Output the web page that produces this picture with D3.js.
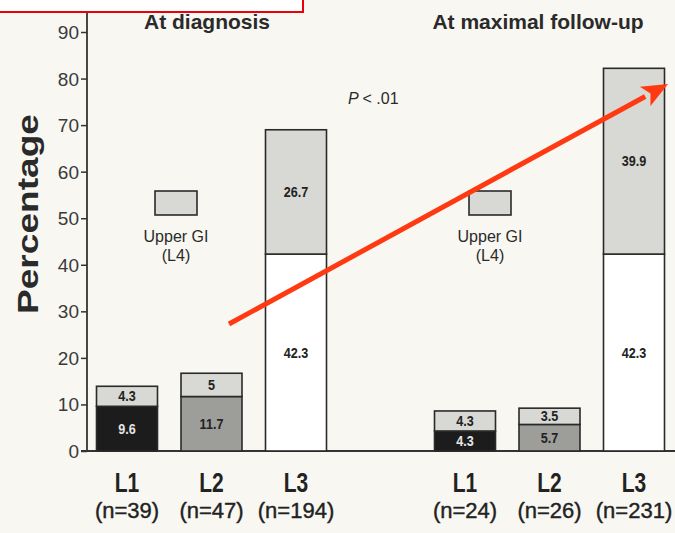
<!DOCTYPE html>
<html>
<head>
<meta charset="utf-8">
<script src="https://cdn.jsdelivr.net/npm/d3@7"></script>
<style>
body { margin: 0; background: #f8f7f2; }
text { font-family: "Liberation Sans", Arial, Helvetica, sans-serif; }
</style>
</head>
<body>
<div class="chart"></div>
<script>
// values
const panels = ['At diagnosis', 'At maximal follow-up'];
const levels = ['L1', 'L2', 'L3'];
const nDiagnosis = [39, 47, 194];
const nFollowUp = [24, 26, 231];
const lowerDiagnosis = [9.6, 11.7, 42.3];
const upperDiagnosis = [4.3, 5, 26.7];
const lowerFollowUp = [4.3, 5.7, 42.3];
const upperFollowUp = [4.3, 3.5, 39.9];
const yTicks = [0, 10, 20, 30, 40, 50, 60, 70, 80, 90];
const legendLines = ['Upper GI', '(L4)'];
const pLabel = '< .01';

const width = 675;
const height = 533;

const svg = d3.select('.chart')
    .append('svg')
    .attr('width', width)
    .attr('height', height);

const slots = ['d-L1', 'd-L2', 'd-L3', 'gap', 'f-L1', 'f-L2', 'f-L3'];

const xScale = d3.scalePoint()
    .domain(slots)
    .range([127, 634]);

const yScale = d3.scaleLinear()
    .domain([0, 90])
    .range([451, 32]);

const barWidth = 61;
const lowerFill = ['#1c1c1c', '#9d9d9a', '#ffffff'];
const lowerText = ['#e4e4e4', '#222', '#222'];
const upperFill = '#d8d8d4';
const ink = '#222';

const bars = [];
levels.forEach((lv, i) => {
    bars.push({key: 'd-' + lv, i, level: lv, n: nDiagnosis[i], lower: lowerDiagnosis[i], upper: upperDiagnosis[i]});
    bars.push({key: 'f-' + lv, i, level: lv, n: nFollowUp[i], lower: lowerFollowUp[i], upper: upperFollowUp[i]});
});

// y axis
const yAxis = d3.axisLeft()
    .scale(yScale)
    .tickValues(yTicks)
    .tickSize(6)
    .tickPadding(2);

const axisGroup = svg.append('g')
    .attr('class', 'axis y-axis')
    .attr('transform', 'translate(87,0)')
    .call(yAxis);

axisGroup.select('.domain').remove();
axisGroup.selectAll('.tick line')
    .attr('stroke', '#333')
    .attr('stroke-width', 1.5);
axisGroup.selectAll('.tick text')
    .attr('fill', '#3a3a3a')
    .attr('font-size', 19)
    .attr('dy', '0.34em');

svg.append('line')
    .attr('x1', 87).attr('x2', 87)
    .attr('y1', 10).attr('y2', yScale(0))
    .attr('stroke', '#333')
    .attr('stroke-width', 1.8);

svg.append('line')
    .attr('x1', 81).attr('x2', width)
    .attr('y1', yScale(0)).attr('y2', yScale(0))
    .attr('stroke', '#333')
    .attr('stroke-width', 1.8);

svg.append('text')
    .text('Percentage')
    .attr('transform', 'translate(38,' + 214 + ') rotate(-90)')
    .attr('text-anchor', 'middle')
    .attr('font-size', 30)
    .attr('font-weight', 'bold')
    .attr('textLength', 200)
    .attr('lengthAdjust', 'spacingAndGlyphs')
    .attr('fill', '#2a2a2a');

// bars
const barGroup = svg.selectAll('.bar')
    .data(bars)
    .enter()
    .append('g')
    .attr('class', 'bar');

barGroup.append('rect')
    .attr('x', d => xScale(d.key) - barWidth / 2)
    .attr('y', d => yScale(d.lower))
    .attr('width', barWidth)
    .attr('height', d => yScale(0) - yScale(d.lower))
    .attr('fill', d => lowerFill[d.i])
    .attr('stroke', '#2a2a2a')
    .attr('stroke-width', 1.6);

barGroup.append('rect')
    .attr('x', d => xScale(d.key) - barWidth / 2)
    .attr('y', d => yScale(d.lower + d.upper))
    .attr('width', barWidth)
    .attr('height', d => yScale(d.lower) - yScale(d.lower + d.upper))
    .attr('fill', upperFill)
    .attr('stroke', '#2a2a2a')
    .attr('stroke-width', 1.6);

barGroup.append('text')
    .attr('transform', d => 'translate(' + xScale(d.key) + ',' + yScale(d.lower / 2) + ') scale(0.9,1)')
    .attr('dy', '0.36em')
    .attr('text-anchor', 'middle')
    .attr('font-size', 14)
    .attr('font-weight', 'bold')
    .attr('fill', d => lowerText[d.i])
    .text(d => d.lower);

barGroup.append('text')
    .attr('transform', d => 'translate(' + xScale(d.key) + ',' + yScale(d.lower + d.upper / 2) + ') scale(0.9,1)')
    .attr('dy', '0.36em')
    .attr('text-anchor', 'middle')
    .attr('font-size', 14)
    .attr('font-weight', 'bold')
    .attr('fill', ink)
    .text(d => d.upper);

// category labels
barGroup.append('text')
    .attr('transform', d => 'translate(' + xScale(d.key) + ',492) scale(0.75,1)')
    .attr('text-anchor', 'middle')
    .attr('font-size', 28)
    .attr('font-weight', 'bold')
    .attr('fill', ink)
    .text(d => d.level);

barGroup.append('text')
    .attr('x', d => xScale(d.key))
    .attr('y', 518)
    .attr('text-anchor', 'middle')
    .attr('font-size', 22)
    .attr('fill', ink)
    .attr('stroke', ink)
    .attr('stroke-width', 0.4)
    .text(d => '(n=' + d.n + ')');

// panel titles
const titleX = [207, 538];
svg.selectAll('.title')
    .data(panels)
    .enter()
    .append('text')
    .attr('class', 'title')
    .attr('x', (d, i) => titleX[i])
    .attr('y', 29)
    .attr('text-anchor', 'middle')
    .attr('font-size', 21)
    .attr('font-weight', 'bold')
    .attr('fill', '#2a2a2a')
    .text(d => d);

// legends
const legendX = [176, 490];
legendX.forEach(cx => {
    svg.append('rect')
        .attr('x', cx - 21)
        .attr('y', 191)
        .attr('width', 42)
        .attr('height', 24)
        .attr('fill', upperFill)
        .attr('stroke', '#2a2a2a')
        .attr('stroke-width', 1.6);
    svg.append('text')
        .attr('x', cx)
        .attr('y', 242)
        .attr('text-anchor', 'middle')
        .attr('font-size', 16)
        .attr('fill', '#2a2a2a')
        .selectAll('tspan')
        .data(legendLines)
        .enter()
        .append('tspan')
        .attr('x', cx)
        .attr('dy', (d, i) => i ? 19 : 0)
        .text(d => d);
});

// p value
const pText = svg.append('text')
    .attr('x', 348)
    .attr('y', 104)
    .attr('font-size', 16)
    .attr('fill', '#2a2a2a');
pText.append('tspan').attr('font-style', 'italic').text('P ');
pText.append('tspan').text(pLabel);

// red annotation box at top
svg.append('rect')
    .attr('x', -3)
    .attr('y', -10)
    .attr('width', 306)
    .attr('height', 22)
    .attr('fill', '#ffffff')
    .attr('stroke', '#e8000a')
    .attr('stroke-width', 2);

// red arrow
const a0 = [229, 324];
const a1 = [668, 84];
const ang = Math.atan2(a1[1] - a0[1], a1[0] - a0[0]);
const headLen = 26;
const headW = 11;
const base = [a1[0] - headLen * Math.cos(ang), a1[1] - headLen * Math.sin(ang)];

svg.append('line')
    .attr('x1', a0[0]).attr('y1', a0[1])
    .attr('x2', base[0]).attr('y2', base[1])
    .attr('stroke', '#ff3a12')
    .attr('stroke-width', 5);

svg.append('path')
    .attr('d', d3.line()([
        a1,
        [base[0] + headW * Math.sin(ang), base[1] - headW * Math.cos(ang)],
        [base[0] + 6 * Math.cos(ang), base[1] + 6 * Math.sin(ang)],
        [base[0] - headW * Math.sin(ang), base[1] + headW * Math.cos(ang)]
    ]) + 'Z')
    .attr('fill', '#ff3a12');
</script>
</body>
</html>
